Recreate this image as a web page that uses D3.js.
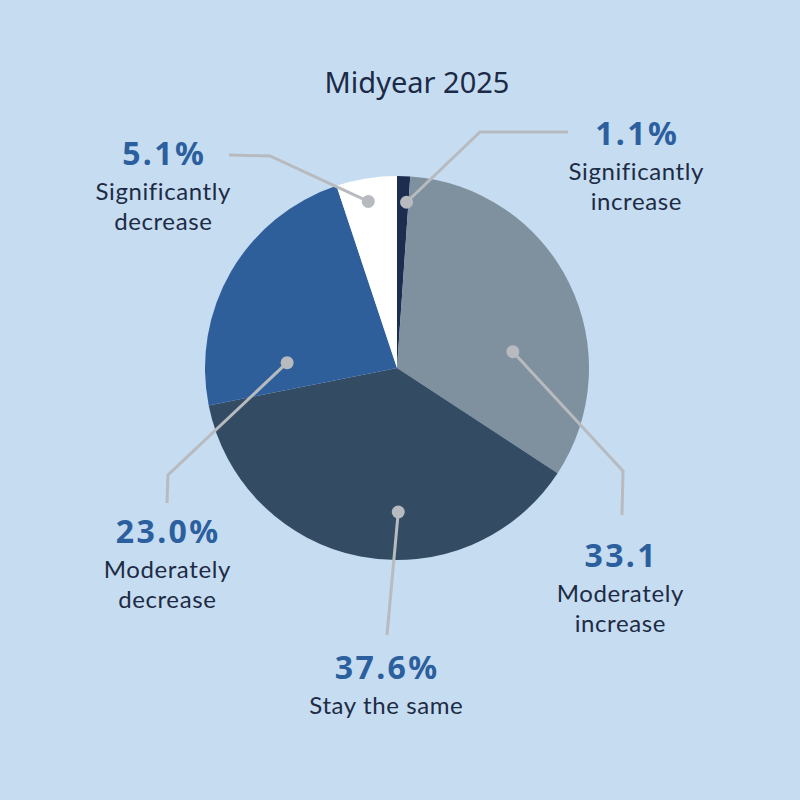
<!DOCTYPE html>
<html>
<head>
<meta charset="utf-8">
<script src="https://cdn.jsdelivr.net/npm/d3@7"></script>
<style>
  html, body { margin: 0; padding: 0; background: #c6dcf1; }
  svg { display: block; }
</style>
</head>
<body>
<svg id="chart" width="800" height="800"></svg>
<script>
// ---- data ----
const title = "Midyear 2025";
const categories = ["Significantly increase", "Moderately increase", "Stay the same", "Moderately decrease", "Significantly decrease"];
const values = [1.1, 33.1, 37.6, 23.0, 5.1];
const valueLabels = ["1.1%", "33.1", "37.6%", "23.0%", "5.1%"];
const labelLines = [["Significantly", "increase"], ["Moderately", "increase"], ["Stay the same"], ["Moderately", "decrease"], ["Significantly", "decrease"]];

// ---- styling / layout ----
const colors = ["#1c2d4f", "#7f909e", "#344c63", "#2e5f9a", "#ffffff"];
const cx = 397, cy = 368, R = 192;
const fontFamily = "'Noto Sans', Lato, sans-serif";
const descFont = "Lato, 'Noto Sans', sans-serif";
// callout layout: dot polar position (deg clockwise from top, radius), elbow & end of leader, label anchor
const callouts = [
  { dotA: 3.3,   dotR: 166, elbow: [480, 132], end: [568, 132], lx: 636, ly: 145 },
  { dotA: 82,    dotR: 117, elbow: [623, 471], end: [622, 515], lx: 620, ly: 567 },
  { dotA: 179.5, dotR: 144, elbow: null,       end: [387, 635], lx: 386, ly: 679 },
  { dotA: 272.8, dotR: 110, elbow: [168, 475], end: [167, 503], lx: 167, ly: 543 },
  { dotA: 350.2, dotR: 169, elbow: [270, 156], end: [229, 155], lx: 163, ly: 165 }
];

const svg = d3.select("#chart");
svg.append("rect").attr("width", 800).attr("height", 800).attr("fill", "#c6dcf1");

svg.append("text")
  .attr("x", 417).attr("y", 93)
  .attr("text-anchor", "middle")
  .attr("font-family", fontFamily)
  .attr("font-size", 29)
  .attr("fill", "#1b2a47")
  .text(title);

const pie = d3.pie().sort(null).value(d => d);
const arcs = pie(values);
const arc = d3.arc().innerRadius(0).outerRadius(R);

const g = svg.append("g").attr("transform", `translate(${cx},${cy})`);
g.selectAll("path.slice")
  .data(arcs)
  .join("path")
  .attr("class", "slice")
  .attr("d", arc)
  .attr("fill", (d, i) => colors[i]);

const lineColor = "#b7bbbf";
const toRad = a => a * Math.PI / 180;

callouts.forEach((c, i) => {
  const dx = cx + c.dotR * Math.sin(toRad(c.dotA));
  const dy = cy - c.dotR * Math.cos(toRad(c.dotA));
  const pts = [[dx, dy]];
  if (c.elbow) pts.push(c.elbow);
  pts.push(c.end);
  svg.append("path")
    .attr("d", d3.line()(pts))
    .attr("fill", "none")
    .attr("stroke", lineColor)
    .attr("stroke-width", 3);
  svg.append("circle")
    .attr("cx", dx).attr("cy", dy).attr("r", 6.5)
    .attr("fill", lineColor);

  const t = svg.append("g").attr("text-anchor", "middle");
  t.append("text")
    .attr("x", c.lx + 1.2).attr("y", c.ly)
    .attr("font-family", fontFamily)
    .attr("font-size", 32)
    .attr("font-weight", 700)
    .attr("letter-spacing", 2.4)
    .attr("fill", "#2c5f9e")
    .text(valueLabels[i]);
  labelLines[i].forEach((ln, j) => {
    t.append("text")
      .attr("x", c.lx + 0.3).attr("y", c.ly + 35 + j * 29.5)
      .attr("font-family", descFont)
      .attr("font-size", 24)
      .attr("letter-spacing", 0.6)
      .attr("fill", "#1d2b45")
      .text(ln);
  });
});
</script>
</body>
</html>
